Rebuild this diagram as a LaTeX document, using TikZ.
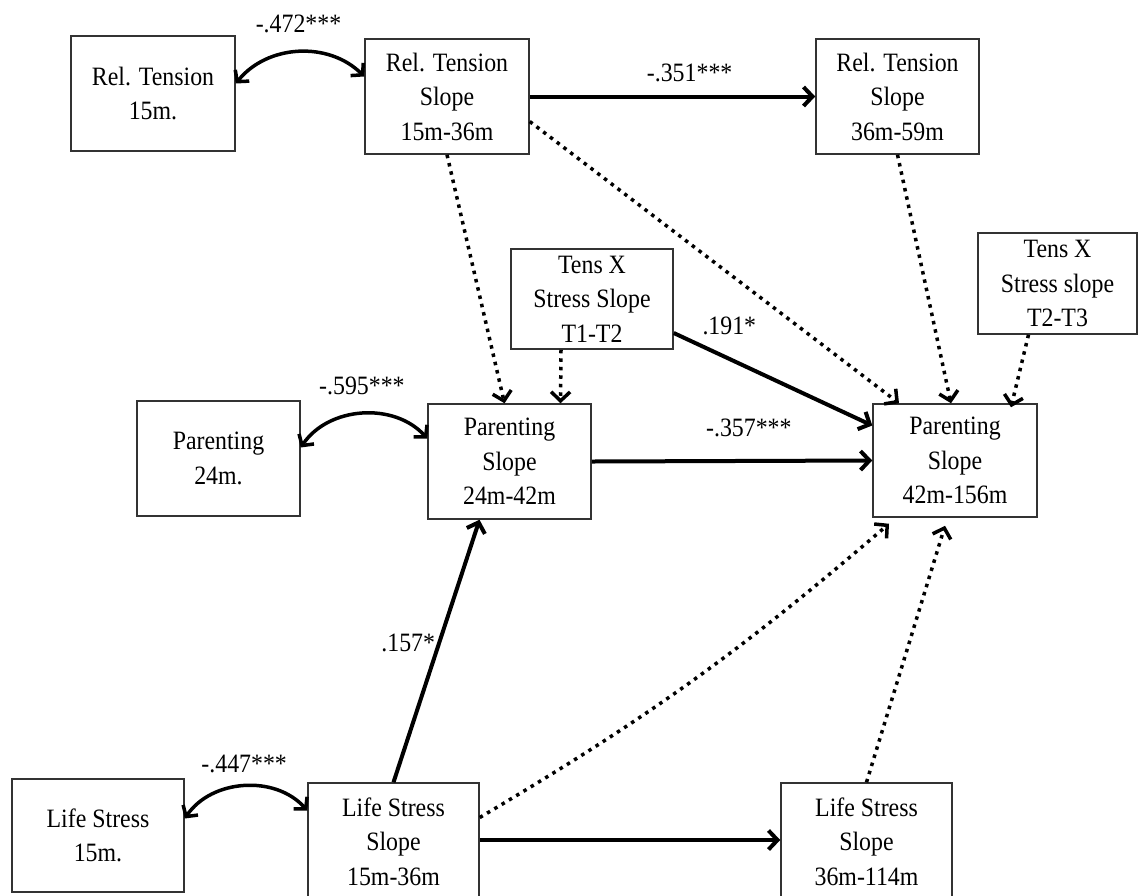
\documentclass[tikz,border=0pt]{standalone}
\usepackage{fontspec}
\setmainfont{Liberation Serif}[FakeStretch=0.9]
\usepackage{tikz}
\usetikzlibrary{positioning, arrows.meta}

\tikzset{
    box/.style={draw=black!80, line width=1.5pt, align=center, inner sep=0pt,
        minimum width=164pt, minimum height=115pt, font=\fontsize{26.5}{34.5}\selectfont},
    lbl/.style={inner sep=0pt, font=\fontsize{26.5}{30}\selectfont},
    tip/.style={-{Straight Barb[length=9pt, width=19pt]}},
    solidarr/.style={tip, line width=4pt},
    dotarr/.style={tip, line width=3.5pt, dash pattern=on 3.5pt off 5pt},
    corr/.style={line width=3.5pt, {Straight Barb[length=8pt, width=18pt]}-{Straight Barb[length=8pt, width=18pt]}}
}

\begin{document}
\begin{tikzpicture}[x=1pt, y=-1pt]
        \useasboundingbox (0,0) rectangle (1139,895);
        \clip (0,0) rectangle (1139,895);

        \node[box] (rt15) at (153,93.5) {Rel. Tension\\15m.};
        \node[box] (rts1) at (447,96.5) {Rel. Tension\\Slope\\15m-36m};
        \node[box, minimum width=163pt] (rts2) at (897.5,96.5) {Rel. Tension\\Slope\\36m-59m};
        \node[box, minimum width=162pt, minimum height=100pt] (tx1) at (592,299) {Tens X\\Stress Slope\\T1-T2};
        \node[box, minimum width=159pt, minimum height=101pt] (tx2) at (1057.5,283.5) {Tens X\\Stress slope\\T2-T3};
        \node[box, minimum width=163pt] (par24) at (218.5,458.5) {Parenting\\24m.};
        \node[box, minimum width=163pt] (ps1) at (509.5,461.5) {Parenting\\Slope\\24m-42m};
        \node[box, minimum height=113pt] (ps2) at (955,460.5) {Parenting\\Slope\\42m-156m};
        \node[box, minimum width=172pt, minimum height=113pt] (ls15) at (98,835.5) {Life Stress\\15m.};
        \node[box, minimum width=171pt, minimum height=117pt] (lss1) at (393.5,841.5) {Life Stress\\Slope\\15m-36m};
        \node[box, minimum width=171pt, minimum height=117pt] (lss2) at (866.5,841.5) {Life Stress\\Slope\\36m-114m};

        % correlations
        \draw[corr] ([yshift=10pt]rt15.east) to[bend left=48] node[lbl, above=17pt] {-.472***} ([yshift=20pt]rts1.west);
        \draw[corr] ([yshift=11pt]par24.east) to[bend left=52] node[lbl, above=17pt] {-.595***} ([yshift=23pt]ps1.west);
        \draw[corr] ([yshift=17pt]ls15.east) to[bend left=52] node[lbl, above=12pt] {-.447***} ([yshift=31pt]lss1.west);

        % paths
        \draw[solidarr] (rts1.east) -- node[lbl, above=13pt, pos=.56] {-.351***} (rts2.west);
        \draw[solidarr] (ps1.east) -- node[lbl, above=22pt, pos=.56] {-.357***} (ps2.west);
        \draw[solidarr] (lss1.east |- 0,840) -- (lss2.west |- 0,840);
        \draw[solidarr] (lss1.north) -- node[lbl, left=2pt, pos=.53] {.157*} ([xshift=-30pt]ps1.south);
        \draw[solidarr] ([yshift=-34pt]tx1.east) -- node[lbl, above=22pt, pos=.28] {.191*} ([yshift=35pt]ps2.west);

        \draw[dotarr] (rts1.south) -- ([xshift=-5pt]ps1.north);
        \draw[dotarr] ([xshift=-31pt]tx1.south) -- ([xshift=51pt]ps1.north);
        \draw[dotarr] ([yshift=-25pt]rts1.east) -- ([xshift=-56pt]ps2.north);
        \draw[dotarr] (rts2.south) -- ([xshift=-4pt]ps2.north);
        \draw[dotarr] ([xshift=-29pt]tx2.south) -- ([xshift=56pt, yshift=-4pt]ps2.north);
        \draw[dotarr] ([yshift=24pt]lss1.east) to[bend right=5] ([xshift=-66pt, yshift=-6pt]ps2.south);
        \draw[dotarr] (lss2.north) -- ([xshift=-10pt, yshift=-8pt]ps2.south);
\end{tikzpicture}
\end{document}
